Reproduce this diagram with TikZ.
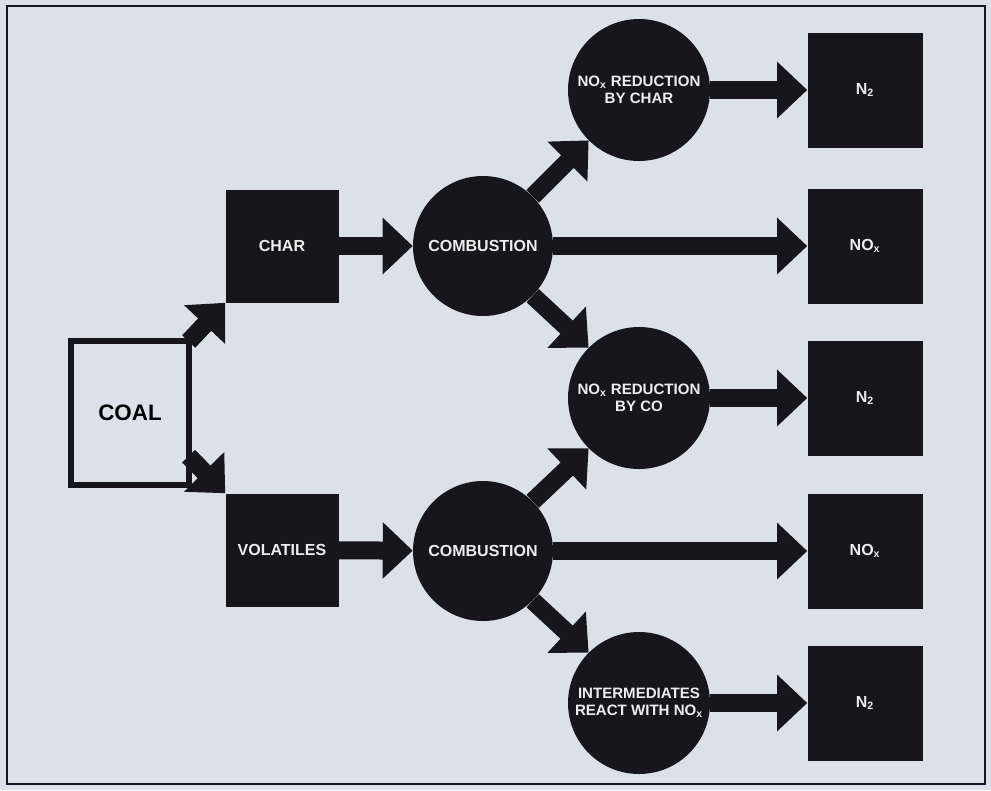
\documentclass[tikz,border=0pt]{standalone}
\usepackage{fontspec}
\setmainfont{Liberation Sans}
\usetikzlibrary{arrows.meta}
\definecolor{paper}{HTML}{DCE1E7}
\definecolor{ink}{HTML}{16161B}
\definecolor{chalk}{HTML}{EDEDED}
\begin{document}
\begin{tikzpicture}[x=0.75pt, y=-0.75pt,
  box/.style={fill=ink, text=chalk, minimum size=84.75pt, inner sep=0pt, font=\bfseries\fontsize{12}{14}\selectfont},
  endbox/.style={box, minimum size=86.25pt},
  disc/.style={circle, fill=ink, text=chalk, minimum size=105pt, inner sep=0pt, align=center, font=\bfseries\fontsize{12}{14}\selectfont},
  smalldisc/.style={disc, minimum size=106.5pt, font=\bfseries\fontsize{11.3}{12.75}\selectfont},
  arr/.style={draw=ink, line width=13.5pt, -{Triangle[length=22.5pt, width=41pt]}}]
\fill[paper] (0,0) rectangle (991,790);
\draw[ink, line width=1.8pt] (7,6) rectangle (985,784);
% left part
\node[draw=ink, line width=5pt, fill=paper, minimum width=88.5pt, minimum height=108pt, font=\bfseries\fontsize{16.8}{18}\selectfont] (coal) at (130,413) {COAL};
\node[box] (char) at (282,246) {CHAR};
\node[box] (vol) at (282,550) {VOLATILES};
\node[disc] (comb1) at (483,246) {COMBUSTION};
\node[disc] (comb2) at (483,551) {COMBUSTION};
% right part
\node[smalldisc] (redchar) at (639,90) {NO\textsubscript{x} REDUCTION\\BY CHAR};
\node[smalldisc] (redco) at (639,398) {NO\textsubscript{x} REDUCTION\\BY CO};
\node[smalldisc] (inter) at (639,703) {INTERMEDIATES\\REACT WITH NO\textsubscript{x}};
\node[endbox] (n2a) at (865,90) {N\textsubscript{2}};
\node[endbox] (noxa) at (865,246) {NO\textsubscript{x}};
\node[endbox] (n2b) at (865,398) {N\textsubscript{2}};
\node[endbox] (noxb) at (865,551) {NO\textsubscript{x}};
\node[endbox] (n2c) at (865,703) {N\textsubscript{2}};
\draw[arr, shorten <=-4pt] (coal.north east) -- (char.south west);
\draw[arr, shorten <=-4pt] (coal.-37) -- (vol.north west);
\draw[arr] (char) -- (comb1);
\draw[arr] (vol) -- (comb2);
\draw[arr] (comb1.45) -- (redchar.-135);
\draw[arr] (comb1) -- (noxa);
\draw[arr] (comb1.-45) -- (redco.135);
\draw[arr] (comb2.45) -- (redco.-135);
\draw[arr] (comb2) -- (noxb);
\draw[arr] (comb2.-45) -- (inter.135);
\draw[arr] (redchar) -- (n2a);
\draw[arr] (redco) -- (n2b);
\draw[arr] (inter) -- (n2c);
\end{tikzpicture}
\end{document}
